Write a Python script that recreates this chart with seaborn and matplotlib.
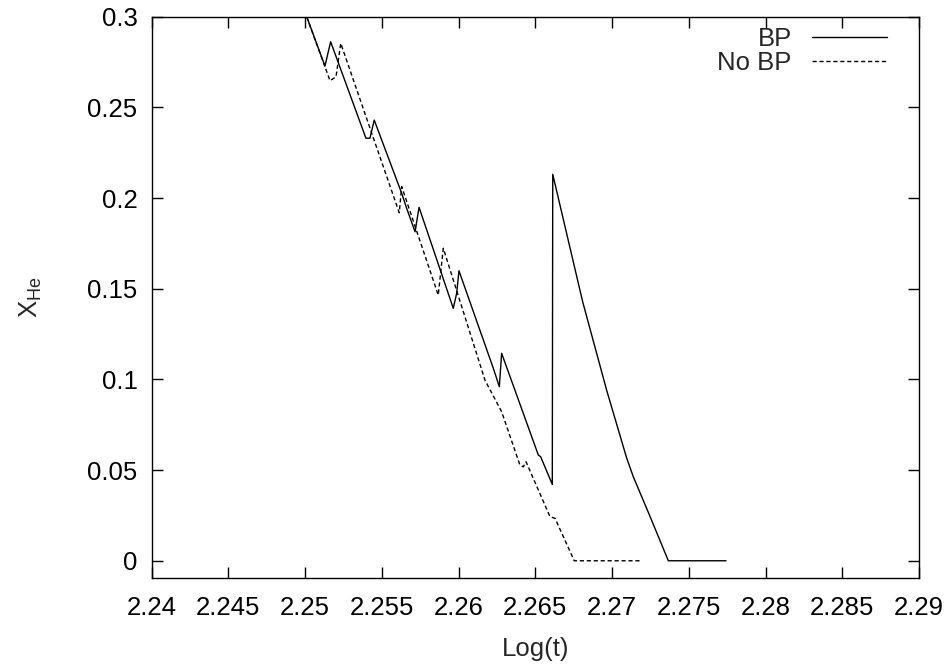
import matplotlib
matplotlib.use("Agg")
import matplotlib.pyplot as plt
import seaborn as sns
import pandas as pd
from matplotlib.ticker import FuncFormatter

# --- data ---
bp_logt = [2.25011, 2.25130, 2.25167, 2.25397, 2.25423, 2.25451, 2.25630, 2.25662,
           2.25717, 2.25743, 2.25966, 2.25988, 2.26003, 2.26227, 2.26266, 2.26281,
           2.26520, 2.26535, 2.26611, 2.26614, 2.26809, 2.26965, 2.27096, 2.27139,
           2.27248, 2.27367, 2.27743]
bp_xhe = [0.3000, 0.2728, 0.2862, 0.2330, 0.2330, 0.2430, 0.2026, 0.1944,
          0.1814, 0.1949, 0.1392, 0.1475, 0.1599, 0.1061, 0.0960, 0.1144,
          0.0583, 0.0574, 0.0421, 0.2131, 0.1428, 0.0941, 0.0565, 0.0463,
          0.0244, 0.0000, 0.0000]

nobp_logt = [2.25011, 2.25163, 2.25202, 2.25233, 2.25435, 2.25614, 2.25630, 2.25868,
             2.25901, 2.26172, 2.26281, 2.26400, 2.26422, 2.26440, 2.26596, 2.26629,
             2.26754, 2.27193]
nobp_xhe = [0.3000, 0.2647, 0.2669, 0.2853, 0.2357, 0.1919, 0.2063, 0.1465,
            0.1723, 0.0997, 0.0822, 0.0528, 0.0518, 0.0546, 0.0243, 0.0234,
            0.0000, 0.0000]

labels = ["BP", "No BP"]
xticks = [2.24, 2.245, 2.25, 2.255, 2.26, 2.265, 2.27, 2.275, 2.28, 2.285, 2.29]
yticks = [0, 0.05, 0.1, 0.15, 0.2, 0.25, 0.3]

sns.set_style("white")
plt.rcParams['font.family'] = ['Liberation Sans', 'DejaVu Sans']
plt.rcParams['mathtext.default'] = 'regular'
FS = 18.5

fig = plt.figure(figsize=(9.52, 6.64), dpi=100)
ax = fig.add_axes([151.5 / 952, 1 - 578 / 664, (919 - 151.5) / 952, (578 - 16.7) / 664])

df_bp = pd.DataFrame({"logt": bp_logt, "xhe": bp_xhe})
df_nobp = pd.DataFrame({"logt": nobp_logt, "xhe": nobp_xhe})

sns.lineplot(data=df_bp, x="logt", y="xhe", ax=ax, sort=False, estimator=None,
             color="black", lw=1.0, label=labels[0])
sns.lineplot(data=df_nobp, x="logt", y="xhe", ax=ax, sort=False, estimator=None,
             color="black", lw=1.0, label=labels[1], linestyle=(0, (3, 2)))

ax.set_xlim(2.24, 2.29)
ax.set_ylim(-0.0095, 0.3)
ax.set_xticks(xticks)
ax.set_yticks(yticks)
fmt = FuncFormatter(lambda v, p: "%g" % round(v, 4))
ax.xaxis.set_major_formatter(fmt)
ax.yaxis.set_major_formatter(fmt)
ax.tick_params(direction="in", length=8, width=1, labelsize=FS, colors="black",
               top=True, right=True, bottom=True, left=True)
ax.tick_params(axis="y", pad=10)
ax.tick_params(axis="x", pad=13)
for s in ax.spines.values():
    s.set_visible(True)
    s.set_color("black")
    s.set_linewidth(1.0)

ax.set_xlabel("Log(t)", fontsize=FS, labelpad=12)
ax.set_ylabel(r"X$_{He}$", fontsize=FS, labelpad=31)

leg = ax.legend(loc="upper right", frameon=False, markerfirst=False, fontsize=FS,
                handlelength=2.9, handletextpad=0.8, labelspacing=0.0,
                bbox_to_anchor=(0.958, 0.982), borderaxespad=0.0, borderpad=0.0)
for t in leg.get_texts():
    t.set_ha("right")

fig.savefig("out.png", dpi=100)
